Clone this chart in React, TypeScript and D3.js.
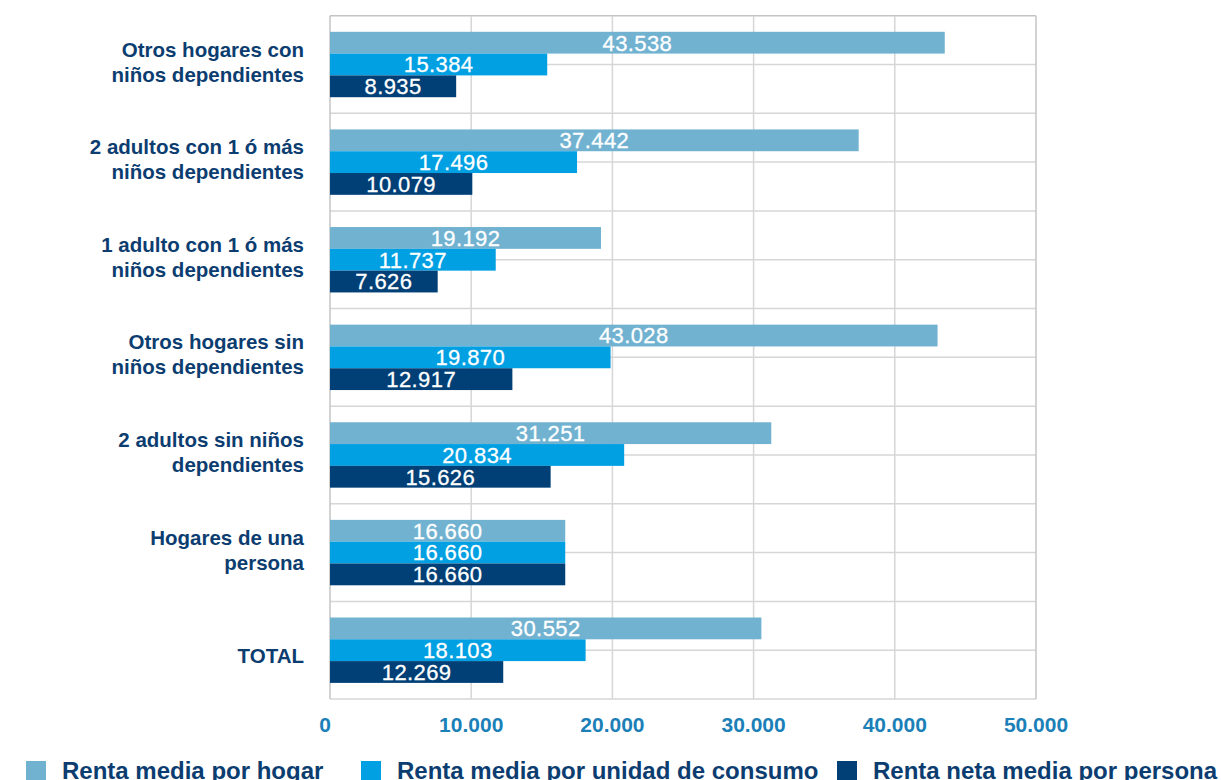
import React, { useRef, useEffect } from "react";
import * as d3 from "d3";

// categorías de arriba abajo, con su corte de línea
const categories = [
  "Otros hogares con niños dependientes",
  "2 adultos con 1 ó más niños dependientes",
  "1 adulto con 1 ó más niños dependientes",
  "Otros hogares sin niños dependientes",
  "2 adultos sin niños dependientes",
  "Hogares de una persona",
  "TOTAL",
];
const categoryLines = [
  ["Otros hogares con", "niños dependientes"],
  ["2 adultos con 1 ó más", "niños dependientes"],
  ["1 adulto con 1 ó más", "niños dependientes"],
  ["Otros hogares sin", "niños dependientes"],
  ["2 adultos sin niños", "dependientes"],
  ["Hogares de una", "persona"],
  ["TOTAL"],
];

const seriesNames = [
  "Renta media por hogar",
  "Renta media por unidad de consumo",
  "Renta neta media por persona",
];
const rentaHogar = [43538, 37442, 19192, 43028, 31251, 16660, 30552];
const rentaUnidad = [15384, 17496, 11737, 19870, 20834, 16660, 18103];
const rentaPersona = [8935, 10079, 7626, 12917, 15626, 16660, 12269];
const xTicks = [0, 10000, 20000, 30000, 40000, 50000];

const colors = ["#72b2d1", "#00a0e3", "#004077"];
const navy = "#0c3d70";
const tickColor = "#1b80b8";
const font = "'Liberation Sans', Arial, Helvetica, sans-serif";

const es = d3.formatLocale({ decimal: ",", thousands: ".", grouping: [3], currency: ["", " €"] });
const fmt = es.format(",d");

const W = 1221;
const H = 780;

const App: React.FC = () => {
  const ref = useRef<SVGSVGElement | null>(null);

  useEffect(() => {
    if (!ref.current) return;
    const svg = d3.select(ref.current);
    svg.selectAll("*").remove();

    const left = 330, right = 1036, top = 15.7, bottom = 699;
    const values = [rentaHogar, rentaUnidad, rentaPersona];

    const x = d3.scaleLinear().domain([0, 50000]).range([left, right]);
    const y = d3.scaleBand<string>().domain(categories).range([top, bottom]).paddingInner(0.33).paddingOuter(0.165);
    const ySub = d3.scaleBand<number>().domain([0, 1, 2]).range([0, y.bandwidth()]);
    const step = y.step();

    // rejilla
    const grid = svg.append("g");
    const hLines = d3.range(0, categories.length * 2 + 1).map((k) => top + (k * step) / 2);
    grid.selectAll("line.h")
      .data(hLines)
      .join("line")
      .attr("x1", left).attr("x2", right)
      .attr("y1", (d) => d).attr("y2", (d) => d)
      .attr("stroke", (d, i) => (i === 0 ? "#c4c4c4" : "#d6d6d6"))
      .attr("stroke-width", 1.5);
    grid.selectAll("line.v")
      .data(xTicks)
      .join("line")
      .attr("x1", (d) => x(d)).attr("x2", (d) => x(d))
      .attr("y1", top).attr("y2", bottom)
      .attr("stroke", (d, i) => (i === xTicks.length - 1 || i === 0 ? "#c4c4c4" : "#d6d6d6"))
      .attr("stroke-width", 1.5);

    // barras
    const groups = svg.append("g")
      .selectAll("g")
      .data(categories)
      .join("g")
      .attr("transform", (d) => `translate(0,${y(d)})`);

    groups.each(function (_c, ci) {
      const g = d3.select(this);
      const rows = values.map((v, si) => ({ si, v: v[ci] }));
      g.selectAll("rect")
        .data(rows)
        .join("rect")
        .attr("x", x(0))
        .attr("y", (d) => ySub(d.si)!)
        .attr("width", (d) => x(d.v) - x(0))
        .attr("height", ySub.bandwidth())
        .attr("fill", (d) => colors[d.si]);
      g.selectAll("text")
        .data(rows)
        .join("text")
        .attr("x", (d) => (x(0) + x(d.v)) / 2)
        .attr("y", (d) => ySub(d.si)! + ySub.bandwidth() / 2 + 7.8)
        .attr("text-anchor", "middle")
        .attr("fill", "#fff")
        .attr("font-family", font)
        .attr("font-size", 22)
        .attr("letter-spacing", 0.4)
        .attr("stroke", "#fff")
        .attr("stroke-width", 0.3)
        .text((d) => fmt(d.v));
    });

    // etiquetas de categoría
    const labels = svg.append("g")
      .attr("font-family", font)
      .attr("font-size", 20.5)
      .attr("font-weight", "bold")
      .attr("fill", navy)
      .attr("text-anchor", "end");
    categories.forEach((c, i) => {
      const center = y(c)! + y.bandwidth() / 2;
      const lines = categoryLines[i];
      const t = labels.append("text");
      lines.forEach((ln, j) => {
        t.append("tspan")
          .attr("x", 304)
          .attr("y", lines.length === 1 ? center + 13 : center - 8 + j * 25)
          .text(ln);
      });
    });

    // eje X
    svg.append("g")
      .selectAll("text")
      .data(xTicks)
      .join("text")
      .attr("x", (d) => (d === 0 ? x(d) - 5 : x(d)))
      .attr("y", 732)
      .attr("text-anchor", "middle")
      .attr("font-family", font)
      .attr("font-size", 21)
      .attr("font-weight", "bold")
      .attr("fill", tickColor)
      .text((d) => fmt(d));

    // leyenda
    const legendX = [26, 361, 837];
    const legend = svg.append("g")
      .selectAll("g")
      .data(seriesNames)
      .join("g")
      .attr("transform", (_d, i) => `translate(${legendX[i]},761)`);
    legend.append("rect")
      .attr("width", 20).attr("height", 20)
      .attr("fill", (_d, i) => colors[i]);
    legend.append("text")
      .attr("x", 36)
      .attr("y", 18)
      .attr("font-family", font)
      .attr("font-size", 24)
      .attr("font-weight", "bold")
      .attr("fill", navy)
      .text((d) => d);

    return () => {
      svg.selectAll("*").remove();
    };
  }, []);

  return (
    <svg
      ref={ref}
      width={W}
      height={H}
      style={{ position: "absolute", left: 0, top: 0, background: "#fff" }}
    />
  );
};

export default App;
